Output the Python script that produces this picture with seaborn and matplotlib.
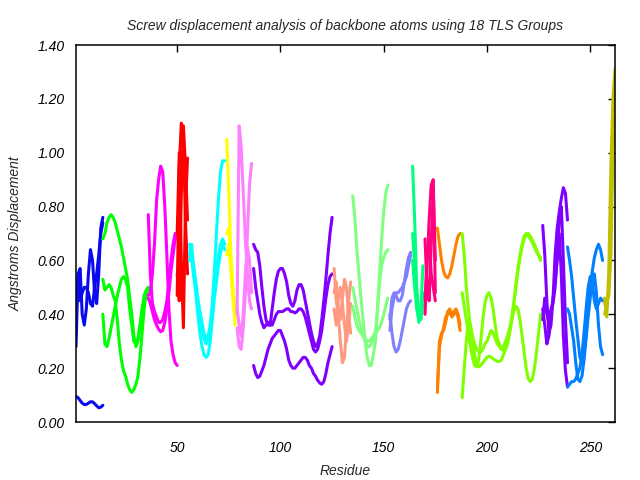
import numpy as np
import pandas as pd
import matplotlib
matplotlib.use("Agg")
import matplotlib.pyplot as plt
import seaborn as sns

# ---------------- data ----------------
title = "Screw displacement analysis of backbone atoms using 18 TLS Groups"
x_label = "Residue"
y_label = "Angstroms Displacement"
x_ticks = [50, 100, 150, 200, 250]
y_ticks = [0.0, 0.2, 0.4, 0.6, 0.8, 1.0, 1.2, 1.4]

group_names = ["G01", "G02", "G03", "G04", "G05", "G06", "G07", "G08", "G09",
               "G10", "G11", "G12", "G13", "G14", "G15", "G16", "G17", "G18"]
group_colors = ["#0a0aee", "#00ff00", "#ff00ff", "#ff0000", "#00ffff", "#ffff00",
                "#ff80ff", "#8000ff", "#ff9980", "#80ff80", "#8080ff", "#00ff80",
                "#ff0080", "#ff8000", "#80ff00", "#8000ff", "#0080ff", "#c0c000"]
group_first_residue = [1, 14, 36, 50, 56, 74, 79, 87, 126, 135, 153, 164, 170,
                       176, 188, 227, 239, 257]

g01 = [[0.095, 0.09, 0.08, 0.07, 0.065, 0.065, 0.07, 0.075, 0.075, 0.068, 0.06, 0.053, 0.055, 0.062],
       [0.28, 0.55, 0.57, 0.40, 0.36, 0.42, 0.55, 0.64, 0.60, 0.48, 0.44, 0.55, 0.72, 0.76],
       [0.40, 0.52, 0.45, 0.48, 0.50, 0.50, 0.48, 0.44, 0.43, 0.50, 0.55, 0.62, 0.70, 0.74]]
g02 = [[0.68, 0.70, 0.74, 0.76, 0.77, 0.76, 0.74, 0.71, 0.68, 0.65, 0.61, 0.57, 0.53, 0.46, 0.40, 0.32, 0.28, 0.30, 0.36, 0.42, 0.47, 0.49, 0.50],
       [0.53, 0.49, 0.50, 0.51, 0.50, 0.47, 0.45, 0.38, 0.29, 0.23, 0.19, 0.17, 0.14, 0.12, 0.11, 0.12, 0.14, 0.17, 0.24, 0.33, 0.42, 0.48, 0.50],
       [0.40, 0.29, 0.28, 0.31, 0.35, 0.39, 0.43, 0.47, 0.50, 0.53, 0.54, 0.53, 0.50, 0.42, 0.36, 0.30, 0.29, 0.31, 0.36, 0.41, 0.45, 0.48, 0.49]]
g03 = [[0.77, 0.55, 0.44, 0.41, 0.39, 0.37, 0.37, 0.38, 0.41, 0.45, 0.52, 0.60, 0.66, 0.70, 0.70],
       [0.47, 0.48, 0.55, 0.66, 0.82, 0.90, 0.95, 0.93, 0.80, 0.62, 0.42, 0.30, 0.25, 0.22, 0.21],
       [0.46, 0.44, 0.41, 0.38, 0.36, 0.345, 0.335, 0.34, 0.37, 0.42, 0.48, 0.56, 0.62, 0.68, 0.70]]
g04 = [[0.47, 0.95, 1.11, 1.05, 0.75, 0.55],
       [0.70, 1.00, 0.60, 0.35, 0.80, 0.98],
       [0.55, 0.45, 0.85, 1.10, 0.95, 0.75]]
g05 = [[0.66, 0.60, 0.54, 0.49, 0.45, 0.41, 0.37, 0.33, 0.31, 0.32, 0.36, 0.44, 0.56, 0.70, 0.83, 0.93, 0.97, 0.97],
       [0.62, 0.66, 0.56, 0.48, 0.40, 0.33, 0.28, 0.25, 0.24, 0.25, 0.30, 0.38, 0.46, 0.52, 0.58, 0.63, 0.66, 0.64],
       [0.60, 0.63, 0.58, 0.52, 0.46, 0.40, 0.35, 0.31, 0.29, 0.30, 0.34, 0.40, 0.48, 0.56, 0.62, 0.66, 0.68, 0.66]]
g06 = [[1.05, 0.85, 0.62, 0.48, 0.36],
       [0.70, 0.72, 0.60, 0.50, 0.40],
       [0.62, 0.66, 0.56, 0.45, 0.38]]
g07 = [[0.40, 1.10, 1.02, 0.85, 0.68, 0.55, 0.45, 0.42],
       [0.35, 0.28, 0.27, 0.35, 0.48, 0.70, 0.88, 0.96],
       [0.42, 0.36, 0.32, 0.40, 0.55, 0.65, 0.60, 0.48]]
g08 = [[0.66, 0.64, 0.63, 0.58, 0.50, 0.43, 0.38, 0.36, 0.36, 0.42, 0.48, 0.53, 0.56, 0.57, 0.57, 0.55, 0.52, 0.47, 0.44, 0.43,
        0.45, 0.49, 0.51, 0.51, 0.49, 0.45, 0.41, 0.37, 0.33, 0.30, 0.28, 0.29, 0.32, 0.38, 0.45, 0.53, 0.62, 0.70, 0.76],
       [0.57, 0.50, 0.45, 0.40, 0.37, 0.35, 0.36, 0.37, 0.36, 0.36, 0.38, 0.40, 0.41, 0.41, 0.41, 0.415, 0.42, 0.42, 0.41, 0.41,
        0.405, 0.41, 0.42, 0.42, 0.41, 0.39, 0.36, 0.33, 0.30, 0.27, 0.26, 0.27, 0.30, 0.34, 0.40, 0.46, 0.51, 0.54, 0.55],
       [0.21, 0.18, 0.165, 0.17, 0.19, 0.21, 0.24, 0.27, 0.29, 0.31, 0.32, 0.33, 0.34, 0.34, 0.32, 0.30, 0.27, 0.23, 0.21, 0.20,
        0.20, 0.21, 0.22, 0.23, 0.24, 0.24, 0.23, 0.21, 0.20, 0.18, 0.17, 0.155, 0.145, 0.14, 0.15, 0.18, 0.22, 0.25, 0.28]]
g09 = [[0.57, 0.45, 0.40, 0.30, 0.22, 0.24, 0.35, 0.45, 0.52],
       [0.48, 0.52, 0.42, 0.38, 0.46, 0.53, 0.50, 0.40, 0.33],
       [0.42, 0.36, 0.46, 0.50, 0.44, 0.36, 0.30, 0.36, 0.44]]
g10 = [[0.84, 0.76, 0.64, 0.55, 0.46, 0.38, 0.30, 0.24, 0.21, 0.21, 0.25, 0.30, 0.42, 0.55, 0.68, 0.78, 0.85, 0.88],
       [0.50, 0.46, 0.42, 0.38, 0.35, 0.32, 0.30, 0.28, 0.28, 0.29, 0.31, 0.34, 0.42, 0.52, 0.58, 0.61, 0.63, 0.64],
       [0.43, 0.39, 0.36, 0.34, 0.33, 0.32, 0.31, 0.30, 0.30, 0.31, 0.32, 0.33, 0.34, 0.35, 0.37, 0.40, 0.43, 0.46]]
g11 = [[0.40, 0.33, 0.28, 0.26, 0.27, 0.30, 0.34, 0.38, 0.42, 0.44, 0.45],
       [0.38, 0.46, 0.48, 0.47, 0.45, 0.45, 0.47, 0.52, 0.57, 0.61, 0.63],
       [0.34, 0.42, 0.46, 0.48, 0.48, 0.49, 0.50, 0.52, 0.54, 0.58, 0.62]]
g12 = [[0.95, 0.75, 0.50, 0.40, 0.38, 0.44],
       [0.70, 0.58, 0.45, 0.37, 0.42, 0.58],
       [0.60, 0.50, 0.42, 0.38, 0.40, 0.48]]
g13 = [[0.40, 0.58, 0.75, 0.88, 0.90, 0.48],
       [0.68, 0.50, 0.45, 0.66, 0.86, 0.60],
       [0.45, 0.62, 0.68, 0.55, 0.50, 0.45]]
g14 = [[0.72, 0.66, 0.60, 0.56, 0.54, 0.535, 0.55, 0.58, 0.62, 0.66, 0.69, 0.70],
       [0.11, 0.30, 0.33, 0.34, 0.37, 0.41, 0.42, 0.40, 0.41, 0.42, 0.40, 0.36],
       [0.13, 0.28, 0.32, 0.35, 0.39, 0.40, 0.41, 0.39, 0.40, 0.41, 0.39, 0.34]]
g15 = [[0.70, 0.62, 0.50, 0.42, 0.35, 0.29, 0.25, 0.22, 0.205, 0.21, 0.22, 0.23, 0.24, 0.245, 0.24, 0.235, 0.23, 0.225, 0.225, 0.23,
        0.25, 0.27, 0.30, 0.34, 0.39, 0.44, 0.50, 0.56, 0.61, 0.65, 0.68, 0.695, 0.70, 0.69, 0.675, 0.66, 0.64, 0.62, 0.60],
       [0.48, 0.43, 0.38, 0.33, 0.28, 0.24, 0.21, 0.205, 0.23, 0.30, 0.38, 0.44, 0.47, 0.48, 0.46, 0.42, 0.36, 0.31, 0.29, 0.27,
        0.265, 0.27, 0.29, 0.33, 0.38, 0.44, 0.51, 0.57, 0.62, 0.66, 0.69, 0.70, 0.69, 0.68, 0.665, 0.65, 0.63, 0.62, 0.61],
       [0.09, 0.20, 0.30, 0.38, 0.36, 0.32, 0.29, 0.27, 0.26, 0.26, 0.27, 0.29, 0.30, 0.32, 0.34, 0.33, 0.31, 0.29, 0.28, 0.27,
        0.28, 0.30, 0.32, 0.35, 0.38, 0.41, 0.43, 0.42, 0.38, 0.32, 0.26, 0.20, 0.16, 0.15, 0.16, 0.20, 0.26, 0.33, 0.40]]
g16 = [[0.73, 0.62, 0.45, 0.33, 0.36, 0.46, 0.62, 0.72, 0.78, 0.83, 0.87, 0.85, 0.75],
       [0.42, 0.36, 0.29, 0.32, 0.40, 0.46, 0.52, 0.60, 0.70, 0.55, 0.32, 0.19, 0.13],
       [0.38, 0.46, 0.40, 0.37, 0.42, 0.44, 0.50, 0.62, 0.76, 0.80, 0.60, 0.38, 0.22]]
g17 = [[0.65, 0.60, 0.54, 0.46, 0.38, 0.31, 0.24, 0.22, 0.25, 0.32, 0.42, 0.50, 0.56, 0.61, 0.64, 0.66, 0.64, 0.60],
       [0.42, 0.40, 0.35, 0.30, 0.22, 0.16, 0.15, 0.17, 0.23, 0.31, 0.39, 0.46, 0.53, 0.55, 0.48, 0.36, 0.28, 0.25],
       [0.13, 0.14, 0.15, 0.15, 0.16, 0.18, 0.20, 0.25, 0.33, 0.42, 0.50, 0.54, 0.52, 0.45, 0.42, 0.44, 0.46, 0.45]]
g18 = [[0.46, 0.39, 0.56, 0.95, 1.20, 1.31],
       [0.40, 0.44, 0.47, 0.62, 1.00, 1.18],
       [0.44, 0.42, 0.50, 0.75, 1.10, 1.25]]

groups = [g01, g02, g03, g04, g05, g06, g07, g08, g09,
          g10, g11, g12, g13, g14, g15, g16, g17, g18]

# ---------------- build long table ----------------
rows = []
for name, start, lines in zip(group_names, group_first_residue, groups):
    for k, vals in enumerate(lines):
        for i, v in enumerate(vals):
            rows.append({"group": name, "line": f"{name}_{k}",
                         "residue": start + i, "disp": v})
df = pd.DataFrame(rows)

# ---------------- plot ----------------
sns.set_style("white")
plt.rcParams["font.family"] = ["Liberation Sans", "DejaVu Sans"]
plt.rcParams["font.style"] = "italic"

fig = plt.figure(figsize=(6.4, 4.8), dpi=100)
ax = fig.add_axes([76 / 640, 1 - 422 / 480, (615 - 76) / 640, (422 - 45) / 480])

palette = dict(zip(group_names, group_colors))
sns.lineplot(data=df, x="residue", y="disp", hue="group", units="line",
             estimator=None, palette=palette, linewidth=2.2, legend=False,
             ax=ax, sort=False)

ax.set_xlim(1, 262)
ax.set_ylim(0, 1.4)
ax.set_xticks(x_ticks)
ax.set_yticks(y_ticks)
ax.set_yticklabels([f"{t:.2f}" for t in y_ticks], fontstyle="italic")
ax.set_xticklabels([str(t) for t in x_ticks], fontstyle="italic")
ax.tick_params(direction="in", length=5, width=1, top=True, right=True,
               labelsize=10, colors="black")
ax.tick_params(axis="x", pad=14)
ax.tick_params(axis="y", pad=8)
for sp in ax.spines.values():
    sp.set_visible(True)
    sp.set_color("black")
    sp.set_linewidth(1.1)

ax.set_xlabel(x_label, fontsize=10, fontstyle="italic", labelpad=6)
ax.set_ylabel(y_label, fontsize=10, fontstyle="italic", labelpad=11)
ax.set_title(title, fontsize=10, fontstyle="italic", pad=11)

fig.savefig("out.png", dpi=100)
